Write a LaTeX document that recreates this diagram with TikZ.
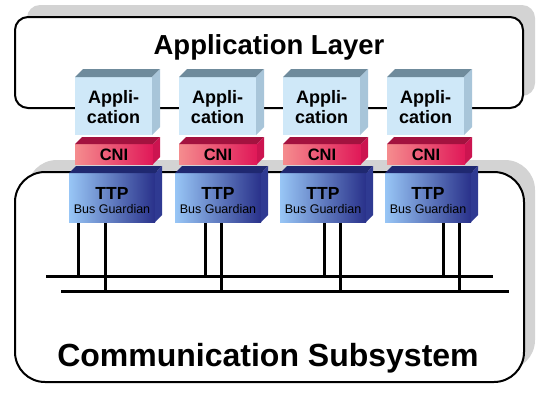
\documentclass[tikz,border=0pt]{standalone}
\usepackage{fontspec}
\setmainfont{Liberation Sans}
\definecolor{shadowgray}{HTML}{D3D3D3}
\definecolor{appfront}{HTML}{CFE8F8}
\definecolor{apptop}{HTML}{6F8B9C}
\definecolor{appside}{HTML}{A8C5D9}
\definecolor{cnileft}{HTML}{F58C8E}
\definecolor{cnimid}{HTML}{F0607A}
\definecolor{cniright}{HTML}{E01858}
\definecolor{cnitop}{HTML}{A3123F}
\definecolor{cniside}{HTML}{CC1450}
\definecolor{ttpleft}{HTML}{98C6F6}
\definecolor{ttpmid}{HTML}{6E92D8}
\definecolor{ttpright}{HTML}{29318A}
\definecolor{ttptop}{HTML}{1F2870}
\definecolor{ttpside}{HTML}{2F3A92}
\newcommand{\mkcube}[8]{%
  \path[#6] (#1,#2) rectangle (#3,#4);
  \fill[#7] (#1,#2) -- ({#1+#5},{#2-#5}) -- ({#3+#5},{#2-#5}) -- (#3,#2) -- cycle;
  \fill[#8] (#3,#2) -- ({#3+#5},{#2-#5}) -- ({#3+#5},{#4-#5}) -- (#3,#4) -- cycle;
}
\begin{document}
\begin{tikzpicture}[x=1pt,y=-1pt,
  frame/.style={draw=black,line width=2pt,fill=white},
  wire/.style={line width=3pt,draw=black},
  lbl/.style={anchor=base,inner sep=0pt,text=black},
  bigtext/.style={lbl,font=\bfseries\fontsize{#1}{#1}\selectfont},
  apptext/.style={lbl,font=\bfseries\fontsize{18}{20}\selectfont},
  cnitext/.style={lbl,font=\bfseries\fontsize{16.5}{18}\selectfont},
  ttptext/.style={lbl,font=\bfseries\fontsize{17.5}{18}\selectfont},
  bgtext/.style={lbl,font=\fontsize{12.5}{14}\selectfont},
]
\useasboundingbox (0,0) rectangle (556,405);
\fill[white] (0,0) rectangle (556,405);

% Application layer
\fill[shadowgray,rounded corners=13pt] (27,5) rectangle (535,96);
\draw[frame,rounded corners=13pt] (15,17) rectangle (523,108);
\node[bigtext=27.5] (applayer) at (269,54) {Application Layer};

% Communication subsystem
\fill[shadowgray,rounded corners=30pt] (27,160) rectangle (535,370);
\draw[frame,rounded corners=30pt] (15,172) rectangle (524,382);
\node[bigtext=32] (comm) at (268,366) {Communication Subsystem};

% buses
\coordinate (busAw) at (46,276);
\coordinate (busAe) at (493,276);
\coordinate (busBw) at (61,291);
\coordinate (busBe) at (509,291);
\draw[wire] (busAw) -- (busAe);
\draw[wire] (busBw) -- (busBe);

\foreach \i/\wa/\wb in {1/78/105, 2/205/221, 3/324/340, 4/443/459} {
  \coordinate (wa\i) at (\wa,222);
  \coordinate (wb\i) at (\wb,222);
  \draw[wire] (wa\i) -- (wa\i |- busAw);
  \draw[wire,shorten >=-2pt] (wb\i) -- (wb\i |- busBw);
}

% node stacks
\foreach \i/\ax/\tx in {1/75/69, 2/179/175, 3/283/280, 4/387/385} {
  \mkcube{\ax}{77}{\ax+77}{135}{8}{fill=appfront}{apptop}{appside}
  \mkcube{\ax}{144}{\ax+78}{164}{7}{left color=cnileft,middle color=cnimid,right color=cniright}{cnitop}{cniside}
  \mkcube{\tx}{173}{\tx+86}{222}{7}{left color=ttpleft,middle color=ttpmid,right color=ttpright}{ttptop}{ttpside}
  \node[apptext] (appl\i) at ({\ax+38.5},103) {Appli-};
  \node[apptext] (cat\i) at ({\ax+38.5},123) {cation};
  \node[cnitext] (cni\i) at ({\ax+39},160) {CNI};
  \node[ttptext] (ttp\i) at ({\tx+43},199) {TTP};
  \node[bgtext] (bg\i) at ({\tx+43},213.5) {Bus Guardian};
}
\end{tikzpicture}
\end{document}
